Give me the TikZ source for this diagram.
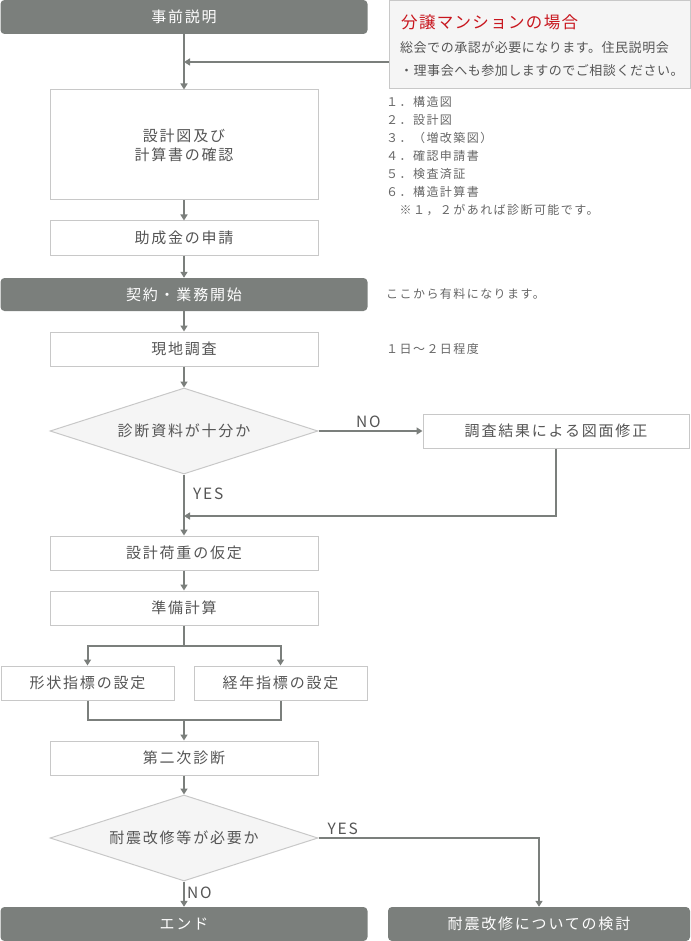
\documentclass[tikz,border=0pt]{standalone}
\usepackage{fontspec}
\setmainfont{Noto Sans CJK JP}[LetterSpace=12]
\usetikzlibrary{arrows.meta,shapes.geometric}

\definecolor{boxdark}{HTML}{7B7F7C}
\definecolor{boxline}{HTML}{C8C8C8}
\definecolor{boxtext}{HTML}{555555}
\definecolor{notefill}{HTML}{F5F5F5}
\definecolor{notered}{HTML}{C8161E}
\definecolor{sidetext}{HTML}{666666}

\newcommand{\fsz}[1]{\fontsize{#1pt}{#1pt}\selectfont}

\tikzset{
  darkbox/.style={draw=none, fill=boxdark, rounded corners=4pt, text=white,
    minimum width=367pt, minimum height=34pt, inner sep=0pt, font=\fsz{15}},
  whitebox/.style={draw=boxline, line width=1pt, fill=white, text=boxtext,
    minimum width=268pt, minimum height=34pt, inner sep=0pt, font=\fsz{15}},
  decision/.style={diamond, aspect=3.116, draw=boxline, line width=1pt, fill=notefill, text=boxtext,
    minimum width=268pt, minimum height=86pt, inner sep=0pt, font=\fsz{15}},
  flow/.style={draw=boxdark, line width=2pt, -{Triangle[width=7pt,length=6pt]}},
  plain/.style={draw=boxdark, line width=2pt},
  yesno/.style={text=boxtext, font=\fsz{15.5}, inner sep=2pt},
  sidenote/.style={anchor=west, text=sidetext, font=\fsz{12}, inner sep=0pt},
}

\begin{document}
\begin{tikzpicture}[x=1pt,y=-1pt]
\useasboundingbox (0,0) rectangle (690,941);

% 事前説明と分譲マンションの注記
\node[darkbox] (setsumei) at (184,17) {事前説明};
\node[draw=boxline, line width=1pt, fill=notefill, anchor=north west,
  minimum width=301pt, minimum height=88pt, inner sep=0pt] (bunjo) at (388.5,0.5) {};
\node[anchor=west, inner sep=0pt, text=notered, font=\fsz{16.5}\addfontfeatures{LetterSpace=8}] (bunjotitle) at (401,22) {分譲マンションの場合};
\node[anchor=west, inner sep=0pt, text=boxtext, font=\fsz{13}\addfontfeatures{LetterSpace=4}] (bunjo1) at (400,48) {総会での承認が必要になります。住民説明会};
\node[anchor=west, inner sep=0pt, text=boxtext, font=\fsz{13}\addfontfeatures{LetterSpace=4}] (bunjo2) at (400,71) {・理事会へも参加しますのでご相談ください。};
\coordinate (goryu1) at (184,62);

% 主な流れ
\node[whitebox, minimum height=110pt, align=center] (kakunin) at (184,145) {設計図及び\\[4pt]計算書の確認};
\node[whitebox] (josei) at (184,238) {助成金の申請};
\node[darkbox, minimum height=33pt] (keiyaku) at (184,294.5) {契約・業務開始};
\node[whitebox] (genchi) at (184,349) {現地調査};
\node[decision] (shiryo) at (184,431) {診断資料が十分か};
\node[whitebox, minimum width=266pt] (shusei) at (556,431) {調査結果による図面修正};
\coordinate (goryu2) at (184,516);
\node[whitebox] (kajuu) at (184,553) {設計荷重の仮定};
\node[whitebox] (junbi) at (184,608) {準備計算};
\coordinate (bunki) at (184,646);
\node[whitebox, minimum width=173pt] (keijou) at (87.5,683) {形状指標の設定};
\node[whitebox, minimum width=173pt] (keinen) at (280.5,683) {経年指標の設定};
\coordinate (goryu3) at (184,720);
\node[whitebox] (niji) at (184,758) {第二次診断};
\node[decision] (hitsuyou) at (184,838) {耐震改修等が必要か};
\node[darkbox] (end) at (184,924) {エンド};
\node[darkbox, minimum width=302pt] (kentou) at (539,924) {耐震改修についての検討};

% 右側の説明
\node[sidenote, anchor=north west, align=left, font=\fontsize{12pt}{18pt}\selectfont] (zumen) at (386,96)
  {１．構造図\\２．設計図\\３．（増改築図）\\４．確認申請書\\５．検査済証\\６．構造計算書\\　※１，２があれば診断可能です。};
\node[sidenote] (yuryo) at (386,294) {ここから有料になります。};
\node[sidenote] (nissu) at (386,349) {１日〜２日程度};

% 矢印
\draw[flow] (setsumei) -- (kakunin);
\draw[flow] (bunjo.west |- goryu1) -- (goryu1);
\draw[flow] (kakunin) -- (josei);
\draw[flow] (josei) -- (keiyaku);
\draw[flow] (keiyaku) -- (genchi);
\draw[flow] (genchi) -- (shiryo);
\draw[flow] (shiryo) -- node[yesno, above, pos=0.48] {NO} (shusei);
\draw[flow] (shusei.south) |- (goryu2);
\draw[flow] (shiryo) -- node[yesno, right, pos=0.31, xshift=6pt] {YES} (kajuu);
\draw[flow] (kajuu) -- (junbi);
\draw[plain] (junbi) -- (bunki);
\draw[flow] (bunki) -| (keijou);
\draw[flow] (bunki) -| (keinen);
\draw[plain] (keijou) |- (goryu3) -| (keinen);
\draw[flow] (goryu3) -- (niji);
\draw[flow] (niji) -- (hitsuyou);
\draw[flow] (hitsuyou) -- node[yesno, right, pos=0.45] {NO} (end);
\draw[flow] (hitsuyou.east) -| node[yesno, above, pos=0.055] {YES} (kentou);
\end{tikzpicture}
\end{document}
